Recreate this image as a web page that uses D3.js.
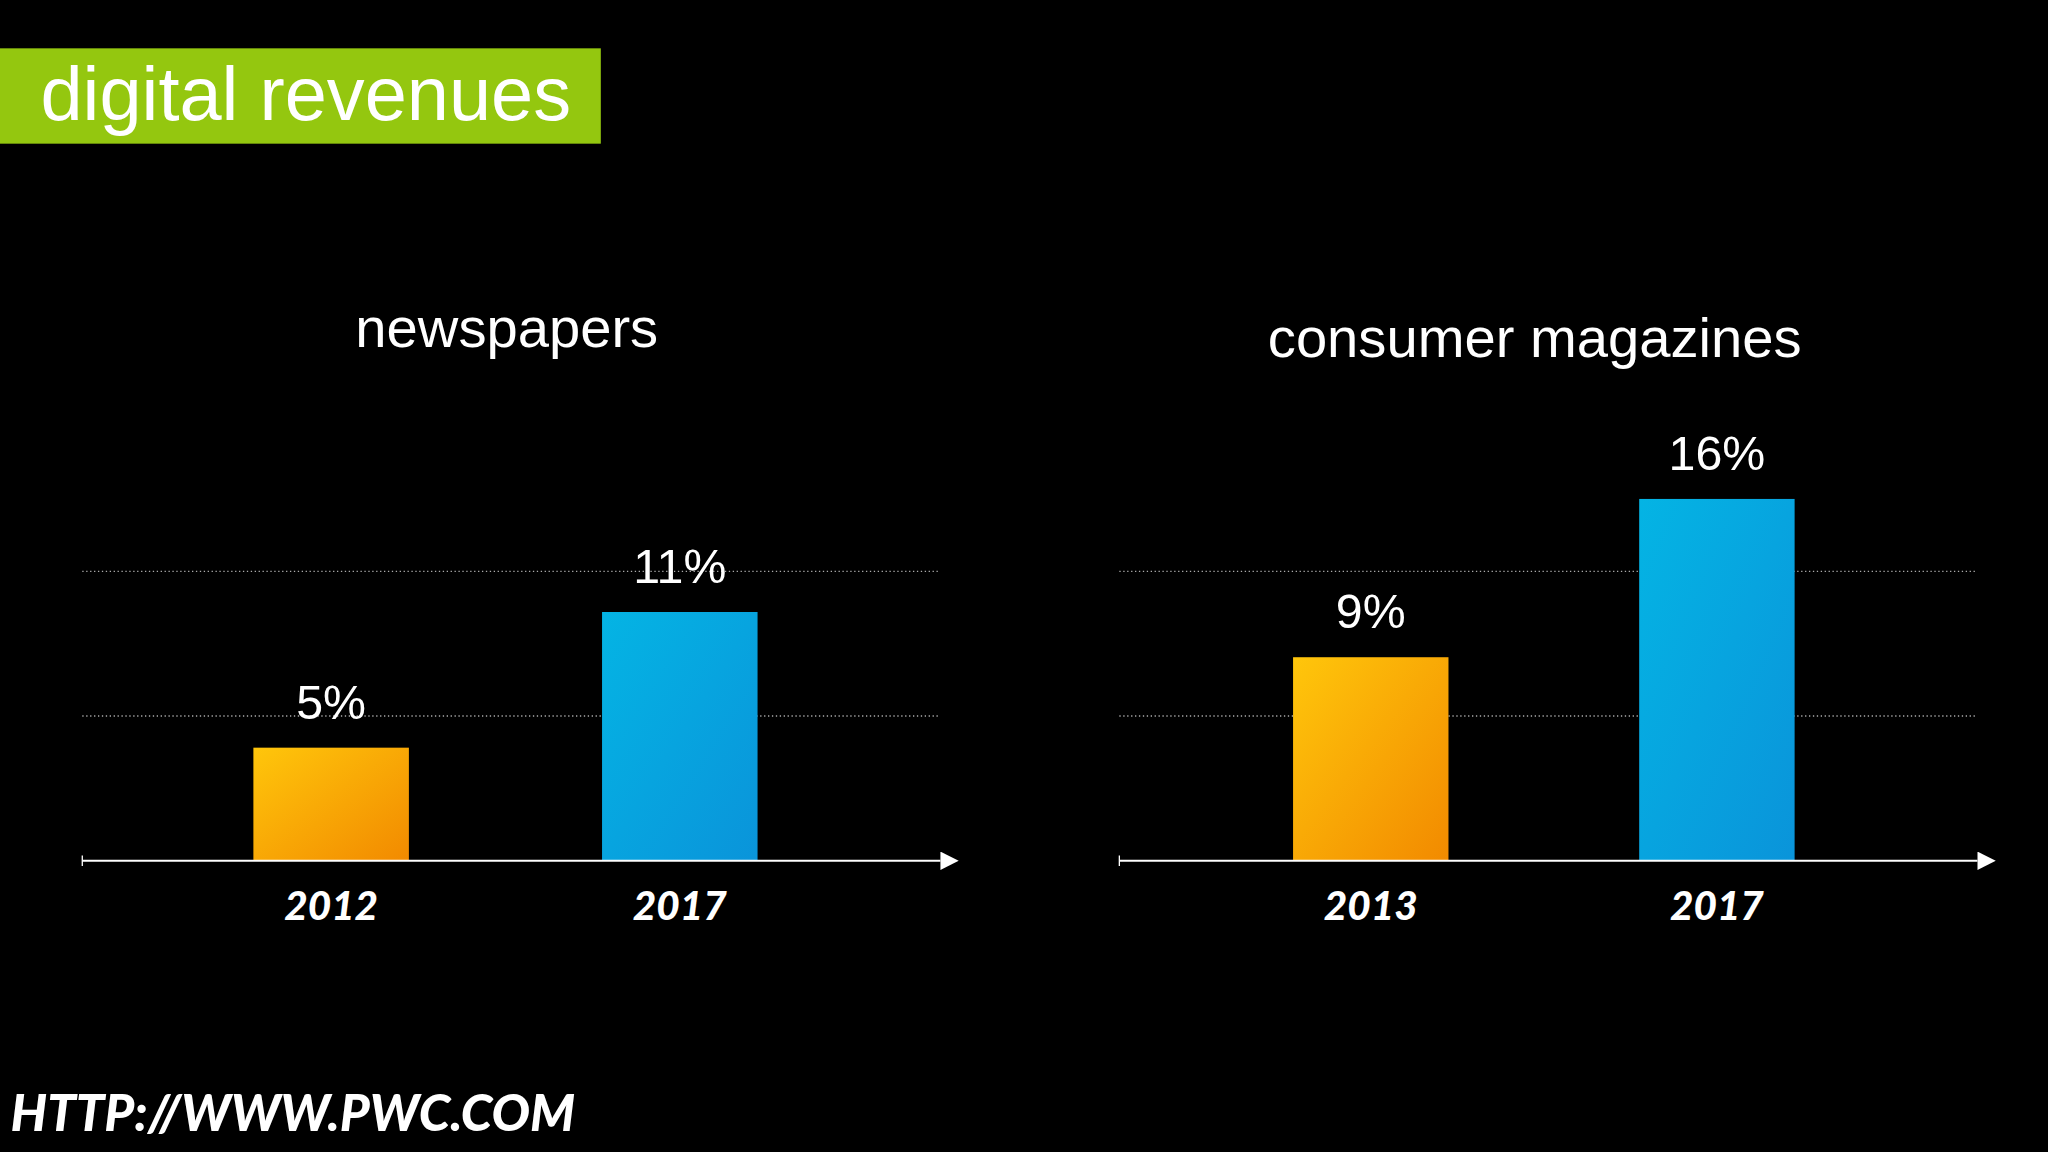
<!DOCTYPE html>
<html>
<head>
<meta charset="utf-8">
<script src="https://cdn.jsdelivr.net/npm/d3@7"></script>
<style>
  body { margin: 0; background: #000; }
  text { font-family: Arial, "Liberation Sans", sans-serif; fill: #fff; }
</style>
</head>
<body>
<svg width="2048" height="1152" viewBox="0 0 1568 882"></svg>
<script>
// chart data
const panelTitles = ["newspapers", "consumer magazines"];
const years = [["2012", "2017"], ["2013", "2017"]];
const values = [[5, 11], [9, 16]];
const gridValues = [6.4, 12.8];

const svg = d3.select("svg");
svg.append("rect").attr("width", 1568).attr("height", 882).attr("fill", "#000");

const defs = svg.append("defs");
const grads = [["gOrange", "#ffc60b", "#f28a00"], ["gBlue", "#04b4e4", "#0a94da"]];
grads.forEach(g => {
    const lg = defs.append("linearGradient").attr("id", g[0])
        .attr("x1", 0).attr("y1", 0).attr("x2", 1).attr("y2", 1);
    lg.append("stop").attr("offset", 0).attr("stop-color", g[1]);
    lg.append("stop").attr("offset", 1).attr("stop-color", g[2]);
});
defs.append("marker").attr("id", "arrow").attr("viewBox", "0 0 10 10")
    .attr("refX", 0).attr("refY", 5).attr("markerWidth", 14).attr("markerHeight", 14)
    .attr("markerUnits", "userSpaceOnUse").attr("orient", "auto")
    .append("path").attr("d", "M0,0 L10,5 L0,10 Z").attr("fill", "#fff");

// title banner
svg.append("rect").attr("x", 0).attr("y", 37).attr("width", 460).attr("height", 73).attr("fill", "#94c70f");
svg.append("text").attr("x", 31).attr("y", 92).attr("font-size", 58).text("digital revenues");

const y = d3.scaleLinear().domain([0, 16]).range([659, 382]);
const panels = [{x0: 63, x1: 718, title: 388, titleY: 266}, {x0: 857, x1: 1512, title: 1175, titleY: 273}];
const xs = [
    d3.scaleBand().domain(years[0]).range([194, 580]).paddingInner(0.554).paddingOuter(0),
    d3.scaleBand().domain(years[1]).range([990, 1374]).paddingInner(0.551).paddingOuter(0)
];

panels.forEach((p, i) => {
    const g = svg.append("g");
    g.append("text").attr("x", p.title).attr("y", p.titleY).attr("text-anchor", "middle")
        .attr("font-size", 43).text(panelTitles[i]);
    g.selectAll(".grid").data(gridValues).join("line")
        .attr("x1", p.x0).attr("x2", p.x1).attr("y1", d => y(d)).attr("y2", d => y(d))
        .attr("stroke", "#aaa").attr("stroke-width", 1).attr("stroke-dasharray", "1,2");
    const x = xs[i];
    g.selectAll(".bar").data(values[i]).join("rect")
        .attr("x", (d, j) => x(years[i][j])).attr("width", x.bandwidth())
        .attr("y", d => y(d)).attr("height", d => y(0) - y(d))
        .attr("fill", (d, j) => j === 0 ? "url(#gOrange)" : "url(#gBlue)");
    g.selectAll(".val").data(values[i]).join("text")
        .attr("x", (d, j) => x(years[i][j]) + x.bandwidth() / 2).attr("y", d => y(d) - 22)
        .attr("text-anchor", "middle").attr("font-size", 37).text(d => d + "%");
    g.append("line").attr("x1", p.x0).attr("x2", p.x1 + 2).attr("y1", y(0)).attr("y2", y(0))
        .attr("stroke", "#fff").attr("stroke-width", 1.5).attr("marker-end", "url(#arrow)");
    g.append("line").attr("x1", p.x0).attr("x2", p.x0).attr("y1", y(0) - 4).attr("y2", y(0) + 4)
        .attr("stroke", "#fff");
    g.selectAll(".yr").data(years[i]).join("text")
        .attr("x", d => x(d) + x.bandwidth() / 2).attr("y", 704)
        .attr("text-anchor", "middle").attr("font-size", 31).attr("font-weight", 900)
        .attr("font-style", "italic").style("font-family", "Lato, sans-serif").text(d => d);
});

svg.append("text").attr("x", 8).attr("y", 866).attr("font-size", 39).attr("font-weight", 900)
    .attr("font-style", "italic").style("font-family", "Lato, sans-serif").text("HTTP://WWW.PWC.COM");
</script>
</body>
</html>
